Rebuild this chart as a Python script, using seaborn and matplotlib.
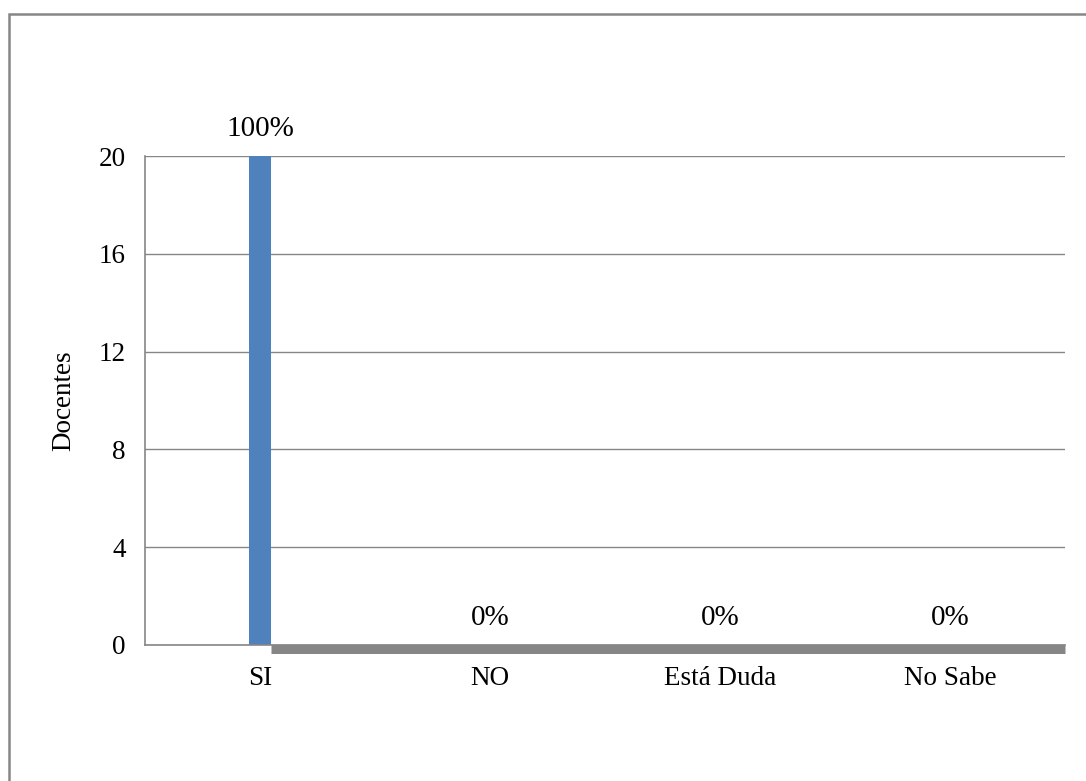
import numpy as np
import pandas as pd
import seaborn as sns
import matplotlib
matplotlib.use('Agg')
import matplotlib.pyplot as plt
from matplotlib.patches import Rectangle
from matplotlib.transforms import ScaledTranslation

# datos del grafico
categorias = ['SI', 'NO', 'Está Duda', 'No Sabe']
docentes = [20, 0, 0, 0]
etiquetas = ['100%', '0%', '0%', '0%']
yticks = [0, 4, 8, 12, 16, 20]

sns.set_style('white')
plt.rcParams['font.family'] = ['Liberation Serif', 'DejaVu Serif']
plt.rcParams['text.color'] = 'black'
plt.rcParams['xtick.color'] = 'black'
plt.rcParams['ytick.color'] = 'black'
plt.rcParams['axes.labelcolor'] = 'black'

df = pd.DataFrame({'categoria': categorias, 'docentes': docentes})

fig = plt.figure(figsize=(10.86, 7.81), dpi=100)
ax = fig.add_axes([145/1086, 1-645/781, (1065-145)/1086, (645-156)/781])

ancho = 0.096
sns.barplot(data=df, x='categoria', y='docentes', order=categorias,
            color='#4F81BD', saturation=1, width=ancho, linewidth=0, ax=ax)

ax.set_xlim(-0.5, len(categorias)-0.5)
ax.set_ylim(0, 20)
ax.set_yticks(yticks)
ax.yaxis.grid(True, color='#868686', linewidth=1)
ax.set_axisbelow(True)
for s in ['top', 'right']:
    ax.spines[s].set_visible(False)
for s in ['left', 'bottom']:
    ax.spines[s].set_color('#868686')
    ax.spines[s].set_linewidth(1.2)

ax.tick_params(axis='both', length=0, labelsize=19.5)
ax.tick_params(axis='y', pad=14)
ax.tick_params(axis='x', pad=15)
ax.set_xlabel('')
ax.set_ylabel('Docentes', fontsize=19.5, labelpad=16)

# banda gris del suelo (despues de la barra SI)
desplaz = ScaledTranslation(0, -3.5/100, fig.dpi_scale_trans)
ax.plot([0 + ancho/2, len(categorias)-0.5], [0, 0], color='#868686', lw=6.5,
        solid_capstyle='butt', transform=ax.transData + desplaz, clip_on=False, zorder=3)

# etiquetas de porcentaje
for i, (v, t) in enumerate(zip(docentes, etiquetas)):
    ax.annotate(t, (i, v), xytext=(0, 10), textcoords='offset points',
                ha='center', va='bottom', fontsize=21)

# borde exterior
fig.patches.append(Rectangle((9/1086, -0.05), 1.1, 1-14/781+0.05, transform=fig.transFigure,
                             fill=False, edgecolor='#868686', linewidth=1.8))

fig.savefig('out.png', dpi=100)
